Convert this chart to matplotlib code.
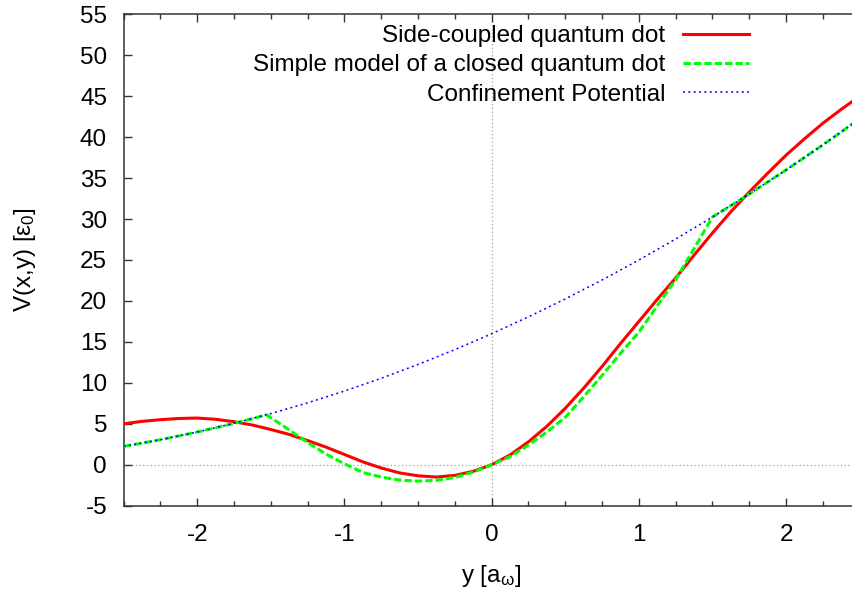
import matplotlib
matplotlib.use("Agg")
import matplotlib.pyplot as plt
from matplotlib.ticker import MultipleLocator

plt.rcParams['font.family'] = ['Liberation Sans', 'DejaVu Sans']
plt.rcParams['mathtext.fontset'] = 'custom'
plt.rcParams['mathtext.rm'] = 'Liberation Sans'
plt.rcParams['mathtext.it'] = 'Liberation Sans:italic'
plt.rcParams['axes.unicode_minus'] = False

# ---- data ----
y_side = [-2.5, -2.375, -2.25, -2.125, -2.0, -1.875, -1.75, -1.625, -1.5, -1.375,
          -1.25, -1.125, -1.0, -0.875, -0.75, -0.625, -0.5, -0.375, -0.25, -0.125,
          0.0, 0.125, 0.25, 0.375, 0.5, 0.625, 0.75, 0.875, 1.0, 1.125,
          1.25, 1.375, 1.5, 1.625, 1.75, 1.875, 2.0, 2.125, 2.25, 2.375, 2.5]
v_side = [5.0, 5.3, 5.5, 5.65, 5.7, 5.55, 5.25, 4.85, 4.3, 3.7,
          2.95, 2.15, 1.25, 0.35, -0.4, -1.0, -1.35, -1.5, -1.3, -0.8,
          0.0, 1.2, 2.8, 4.7, 6.9, 9.35, 12.0, 14.8, 17.5, 20.2,
          22.8, 25.6, 28.3, 30.9, 33.3, 35.6, 37.8, 39.8, 41.7, 43.4, 45.0]

y_simple = [-2.5, -2.375, -2.25, -2.125, -2.0, -1.875, -1.75, -1.625, -1.53, -1.375,
            -1.25, -1.125, -1.0, -0.875, -0.75, -0.625, -0.5, -0.375, -0.25, -0.125,
            0.0, 0.125, 0.25, 0.375, 0.5, 0.625, 0.75, 0.875, 1.0, 1.125,
            1.25, 1.375, 1.5, 1.625, 1.75, 1.875, 2.0, 2.125, 2.25, 2.375, 2.5]
v_simple = [2.25, 2.64, 3.06, 3.52, 4.0, 4.52, 5.06, 5.64, 6.1, 4.25,
            2.7, 1.3, 0.1, -0.95, -1.5, -1.88, -2.0, -1.9, -1.55, -0.9,
            0.0, 1.0, 2.4, 4.0, 5.8, 8.3, 10.9, 13.6, 16.2, 19.4,
            22.6, 26.4, 30.25, 31.64, 33.06, 34.52, 36.0, 37.52, 39.06, 40.64, 42.25]

y_conf = [-2.5, -2.25, -2.0, -1.75, -1.5, -1.25, -1.0, -0.75, -0.5, -0.25,
          0.0, 0.25, 0.5, 0.75, 1.0, 1.25, 1.5, 1.75, 2.0, 2.25, 2.5]
v_conf = [2.25, 3.06, 4.0, 5.06, 6.25, 7.56, 9.0, 10.56, 12.25, 14.06,
          16.0, 18.06, 20.25, 22.56, 25.0, 27.56, 30.25, 33.06, 36.0, 39.06, 42.25]

labels = ["Side-coupled quantum dot",
          "Simple model of a closed quantum dot",
          "Confinement Potential"]
x_ticks = [-2, -1, 0, 1, 2]
y_ticks = [-5, 0, 5, 10, 15, 20, 25, 30, 35, 40, 45, 50, 55]

FS = 17.5
W, H = 853, 596
fig = plt.figure(figsize=(W / 100, H / 100), dpi=100)
ax = fig.add_axes([123.7 / W, (H - 505.7) / H, (859.7 - 123.7) / W, (505.7 - 14.3) / H])

# zero axes
ax.axhline(0, color='#a0a0a0', lw=0.9, ls=(0, (1, 2)), zorder=1)
ax.axvline(0, color='#a0a0a0', lw=0.9, ls=(0, (1, 2)), zorder=1)

ax.plot(y_side, v_side, color='#ff0000', lw=2.2, label=labels[0], zorder=3)
ax.plot(y_simple, v_simple, color='#00ff00', lw=2.2, ls=(0, (2.4, 1.0)), label=labels[1], zorder=4)
ax.plot(y_conf, v_conf, color='#0000ff', lw=1.1, ls=(0, (1.3, 2.2)), label=labels[2], zorder=5)

ax.set_xlim(-2.5, 2.5)
ax.set_ylim(-5, 55)
ax.set_xticks(x_ticks)
ax.set_yticks(y_ticks)
ax.xaxis.set_minor_locator(MultipleLocator(0.25))

for s in ax.spines.values():
    s.set_color('#333333')
    s.set_linewidth(1.1)

ax.tick_params(which='both', direction='in', top=True, right=True, color='#333333', width=1.0)
ax.tick_params(which='major', length=6)
ax.tick_params(which='minor', length=3.5)
ax.tick_params(axis='x', which='major', labelsize=FS, pad=13)
ax.tick_params(axis='y', which='major', labelsize=FS, pad=12)
ax.tick_params(axis='y', which='minor', left=False, right=False)

fig.text(491 / W, 1 - 576 / H, 'y [a$_\\mathregular{ω}$]', ha='center', va='center', fontsize=FS)
fig.text(25 / W, 1 - 260 / H, 'V(x,y) [ε$_\\mathregular{0}$]', ha='center', va='center',
         rotation=90, fontsize=FS)

leg = ax.legend(loc='upper right', bbox_to_anchor=(749 / W, 1 - 25 / H),
                bbox_transform=fig.transFigure, frameon=False, markerfirst=False,
                fontsize=FS, handlelength=2.7, handletextpad=0.75, labelspacing=0.3,
                borderpad=0, borderaxespad=0)
leg._legend_box._children[-1]._children[0].align = 'right'

fig.savefig('out.png', dpi=100)
